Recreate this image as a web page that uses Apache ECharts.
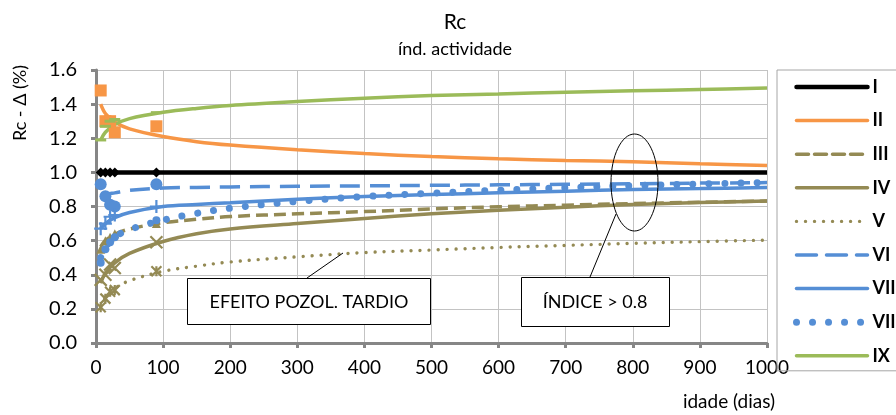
<!DOCTYPE html>
<html>
<head>
<meta charset="utf-8">
<script src="https://cdn.jsdelivr.net/npm/echarts@6/dist/echarts.min.js"></script>
<style>
  html, body { margin: 0; padding: 0; background: #fff; }
  #rc-chart { width: 896px; height: 415px; }
</style>
</head>
<body>
<div id="rc-chart"></div>
<script>
// ages of the tested specimens (dias)
var testDays = [7, 14, 21, 28, 90];
var trendDays = [7, 14, 28, 50, 100, 150, 200, 300, 400, 500, 600, 700, 800, 900, 1000];

var seriesNames = ['I', 'II', 'III', 'IV', 'V', 'VI', 'VII', 'VIII', 'IX'];

// measured points
var ptsI    = [1.0, 1.0, 1.0, 1.0, 1.0];
var ptsII   = [1.48, 1.30, 1.30, 1.235, 1.27];
var ptsIII  = [0.55, 0.60, 0.62, 0.64, 0.70];
var ptsIV   = [0.37, 0.40, 0.46, 0.44, 0.59];
var ptsV    = [0.21, 0.26, 0.30, 0.31, 0.42];
var ptsVI   = [0.93, 0.86, 0.81, 0.80, 0.93];
var ptsVII  = [0.67, 0.70, 0.74, 0.75, 0.80];
var ptsVIII = [0.47, 0.55, 0.59, 0.62, 0.72];
var ptsIX   = [1.19, 1.27, 1.30, 1.31, 1.35];

// trend curves
var trendI    = [1.0, 1.0, 1.0, 1.0, 1.0, 1.0, 1.0, 1.0, 1.0, 1.0, 1.0, 1.0, 1.0, 1.0, 1.0];
var trendII   = [1.40, 1.345, 1.295, 1.255, 1.21, 1.18, 1.16, 1.132, 1.11, 1.093, 1.08, 1.07, 1.062, 1.05, 1.04];
var trendIII  = [0.565, 0.60, 0.637, 0.668, 0.705, 0.725, 0.741, 0.757, 0.77, 0.786, 0.798, 0.808, 0.817, 0.825, 0.832];
var trendIV   = [0.35, 0.41, 0.47, 0.525, 0.595, 0.64, 0.668, 0.70, 0.73, 0.757, 0.778, 0.796, 0.812, 0.823, 0.832];
var trendV    = [0.21, 0.265, 0.32, 0.365, 0.42, 0.45, 0.475, 0.505, 0.53, 0.545, 0.56, 0.572, 0.584, 0.594, 0.603];
var trendVI   = [0.86, 0.87, 0.88, 0.895, 0.908, 0.912, 0.915, 0.918, 0.921, 0.924, 0.927, 0.93, 0.933, 0.937, 0.94];
var trendVII  = [0.67, 0.70, 0.735, 0.765, 0.80, 0.812, 0.822, 0.843, 0.858, 0.87, 0.88, 0.89, 0.90, 0.905, 0.911];
var trendVIII = [0.50, 0.56, 0.62, 0.665, 0.72, 0.76, 0.79, 0.83, 0.858, 0.878, 0.895, 0.91, 0.922, 0.932, 0.94];
var trendIX   = [1.19, 1.235, 1.28, 1.315, 1.352, 1.375, 1.392, 1.415, 1.435, 1.45, 1.46, 1.47, 1.478, 1.486, 1.494];

var yTicks = ['0.0', '0.2', '0.4', '0.6', '0.8', '1.0', '1.2', '1.4', '1.6'];

var BLACK = '#000000', ORANGE = '#F79646', OLIVE = '#948A54', BLUE = '#558ED5', GREEN = '#9BBB59';
var FONT = 'Lato';

var chart = echarts.init(document.getElementById('rc-chart'));

function pairs(xs, ys) {
    return xs.map(function(x, i) { return [x, ys[i]]; });
}

function trendSeries(name, vals, color, width, type, cap) {
    return {
        name: name,
        type: 'line',
        data: pairs(trendDays, vals),
        smooth: 0.35,
        symbol: 'none',
        clip: true,
        lineStyle: { color: color, width: width, type: type, cap: cap || 'butt' },
        itemStyle: { color: color },
        z: 2
    };
}

function pointSeries(name, vals, symbol, size, color, stroke) {
    return {
        name: name + ' pts',
        type: 'scatter',
        data: pairs(testDays, vals),
        symbol: symbol,
        symbolSize: size,
        itemStyle: stroke
            ? { color: 'rgba(0,0,0,0)', borderColor: color, borderWidth: 2.2, opacity: 1 }
            : { color: color, opacity: 1 },
        z: 3
    };
}

function label(text, x, y, size, rot) {
    return {
        type: 'text', x: x, y: y, rotation: rot || 0, z: 11,
        style: {
            text: text, fontFamily: FONT, fontSize: size, fontStyle: 'normal', fill: '#000',
            align: 'center', verticalAlign: 'middle', textAlign: 'center', textVerticalAlign: 'middle'
        }
    };
}

var xMark = 'path://M0,0L10,10M10,0L0,10';
var plusMark = 'path://M5,0L5,10M0,5L10,5';
var starMark = 'path://M0,0L10,10M10,0L0,10M5,0L5,10';

var option = {
    animation: false,
    textStyle: { fontFamily: FONT },
    grid: { left: 96, right: 129, top: 70, bottom: 72 },
    legend: {
        data: seriesNames,
        orient: 'vertical',
        left: 777,
        top: 70,
        itemWidth: 71,
        itemHeight: 14,
        itemGap: 15.6,
        padding: [8, 60, 6, 16],
        borderColor: '#A6A6A6',
        borderWidth: 1,
        itemStyle: { opacity: 0 },
        lineStyle: { width: 'inherit', cap: 'round' },
        textStyle: { fontFamily: FONT, fontSize: 18, fontWeight: 'bold', color: '#000' },
        selectedMode: false
    },
    xAxis: {
        type: 'value',
        min: 0, max: 1000, interval: 100,
        axisLine: { lineStyle: { color: '#868686', width: 3 } },
        axisTick: { show: true, length: 5, lineStyle: { color: '#868686', width: 3 } },
        axisLabel: {
            margin: 15, fontSize: 19, color: '#000', fontFamily: FONT,
            formatter: function(v) { return String(v); }
        },
        splitLine: { show: true, lineStyle: { color: '#C3C3C3', width: 1 } }
    },
    yAxis: {
        type: 'value',
        min: 0, max: 1.6, interval: 0.2,
        axisLine: { show: true, lineStyle: { color: '#868686', width: 3 } },
        axisTick: { show: true, length: 5, lineStyle: { color: '#868686', width: 3 } },
        axisLabel: {
            margin: 19, fontSize: 20, color: '#000', fontFamily: FONT,
            formatter: function(v) { return yTicks[Math.round(v / 0.2)]; }
        },
        splitLine: { show: true, lineStyle: { color: '#C3C3C3', width: 1 } }
    },
    series: [
        trendSeries('I', trendI, BLACK, 4.5, 'solid'),
        trendSeries('II', trendII, ORANGE, 3.5, 'solid'),
        trendSeries('III', trendIII, OLIVE, 3.5, [12, 6]),
        trendSeries('IV', trendIV, OLIVE, 3.5, 'solid'),
        trendSeries('V', trendV, OLIVE, 3.4, [0.01, 9], 'round'),
        trendSeries('VI', trendVI, BLUE, 3.5, [20, 10]),
        trendSeries('VII', trendVII, BLUE, 3.5, 'solid'),
        trendSeries('VIII', trendVIII, BLUE, 7, [0.01, 16], 'round'),
        trendSeries('IX', trendIX, GREEN, 3.5, 'solid'),

        pointSeries('I', ptsI, 'diamond', 10, BLACK),
        pointSeries('II', ptsII, 'rect', 12, ORANGE),
        pointSeries('III', ptsIII, 'triangle', 9, OLIVE),
        pointSeries('IV', ptsIV, xMark, 12, OLIVE, true),
        pointSeries('V', ptsV, starMark, 10, OLIVE, true),
        pointSeries('VI', ptsVI, 'circle', 12, BLUE),
        pointSeries('VII', ptsVII, plusMark, 13, BLUE, true),
        pointSeries('VIII', ptsVIII, 'circle', 8, BLUE),
        pointSeries('IX', ptsIX, 'rect', [11, 3], GREEN)
    ],
    graphic: [
        label('Rc', 455, 22, 21),
        label('índ. actividade', 455, 49, 18),
        label('Rc - Δ (%)', 20, 103, 18, Math.PI / 2),
        label('idade (dias)', 729, 402, 19),

        // callout: late pozzolanic effect
        { type: 'line', z: 10, shape: { x1: 307, y1: 278, x2: 343, y2: 253 },
          style: { stroke: '#000', lineWidth: 1 } },
        { type: 'rect', z: 10, shape: { x: 187.5, y: 278.5, width: 243, height: 46 },
          style: { fill: '#fff', stroke: '#000', lineWidth: 1 } },
        label('EFEITO POZOL. TARDIO', 309, 302, 18),

        // callout: index above 0.8
        { type: 'ellipse', z: 10, shape: { cx: 634.5, cy: 182.5, rx: 23.5, ry: 48.5 },
          style: { fill: 'none', stroke: '#000', lineWidth: 1 } },
        { type: 'line', z: 10, shape: { x1: 590, y1: 277, x2: 616, y2: 214 },
          style: { stroke: '#000', lineWidth: 1 } },
        { type: 'rect', z: 10, shape: { x: 521.5, y: 277.5, width: 148, height: 49 },
          style: { fill: '#fff', stroke: '#000', lineWidth: 1 } },
        label('ÍNDICE > 0.8', 595, 302, 18)
    ]
};

chart.setOption(option);
</script>
</body>
</html>
